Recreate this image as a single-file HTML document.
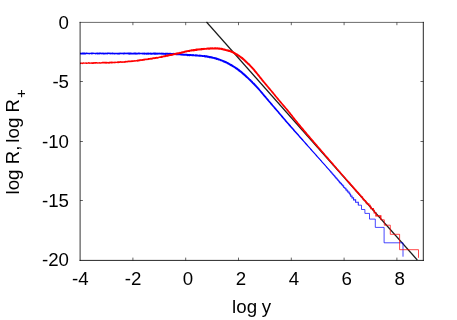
<!DOCTYPE html>
<html><head><meta charset="utf-8">
<style>
html,body{margin:0;padding:0;background:#fff;}
body{width:457px;height:320px;overflow:hidden;}
svg{display:block;will-change:transform;}
text{font-family:"Liberation Sans",sans-serif;font-size:18.7px;fill:#000;}
</style></head><body>
<svg width="457" height="320" viewBox="0 0 457 320">
<rect width="457" height="320" fill="#fff"/>
<g fill="none" stroke-linejoin="miter" stroke-linecap="butt">
<path stroke="#000" stroke-opacity="0.9" stroke-width="1.15" d="M206.5,22 L417.3,260"/>
<path d="M80.00,54.36 L80.70,54.47 L81.40,54.51 L82.10,54.41 L82.80,54.41 L83.50,54.39 L84.20,54.38 L84.90,54.42 L85.60,54.52 L86.30,54.22 L87.00,54.08 L87.70,54.16 L88.40,54.15 L89.10,54.22 L89.80,54.45 L90.50,54.08 L91.20,54.27 L91.90,54.45 L92.60,54.18 L93.30,54.09 L94.00,54.18 L94.70,54.10 L95.40,54.46 L96.10,54.15 L96.80,54.16 L97.50,54.47 L98.20,54.47 L98.90,54.36 L99.60,54.52 L100.30,54.11 L101.00,54.55 L101.70,54.36 L102.40,54.23 L103.10,54.49 L103.80,54.41 L104.50,54.57 L105.20,54.14 L105.90,54.38 L106.60,54.33 L107.30,54.41 L108.00,54.22 L108.70,54.12 L109.40,54.37 L110.10,54.28 L110.80,54.54 L111.50,54.33 L112.20,54.32 L112.90,54.42 L113.60,54.37 L114.30,54.58 L115.00,54.50 L115.70,54.37 L116.40,54.24 L117.10,54.43 L117.80,54.50 L118.50,54.51 L119.20,54.63 L119.90,54.27 L120.60,54.37 L121.30,54.37 L122.00,54.33 L122.70,54.36 L123.40,54.41 L124.10,54.45 L124.80,54.32 L125.50,54.27 L126.20,54.35 L126.90,54.28 L127.60,54.37 L128.30,54.55 L129.00,54.51 L129.70,54.71 L130.40,54.51 L131.10,54.50 L131.80,54.55 L132.50,54.59 L133.20,54.54 L133.90,54.53 L134.60,54.54 L135.30,54.43 L136.00,54.63 L136.70,54.55 L137.40,54.42 L138.10,54.39 L138.80,54.32 L139.50,54.45 L140.20,54.30 L140.90,54.37 L141.60,54.33 L142.30,54.43 L143.00,54.47 L143.70,54.58 L144.40,54.67 L145.10,54.61 L145.80,54.40 L146.50,54.74 L147.20,54.67 L147.90,54.56 L148.60,54.63 L149.30,54.58 L150.00,54.42 L150.70,54.64 L151.40,54.80 L152.10,54.71 L152.80,54.44 L153.50,54.42 L154.19,54.79 L154.89,54.79 L155.59,54.72 L156.29,54.73 L157.00,54.45 L157.69,54.76 L158.39,54.48 L159.09,54.47 L159.79,54.59 L160.49,54.42 L161.18,54.81 L161.89,54.51 L162.58,54.78 L163.28,54.73 L163.97,54.82 L164.67,54.77 L165.37,54.94 L166.07,54.71 L166.77,54.78 L167.47,54.73 L168.17,54.92 L168.87,54.76 L169.56,54.99 L170.27,54.71 L170.97,54.79 L171.67,54.90 L172.37,54.79 L173.07,54.85 L173.75,55.14 L174.46,54.97 L175.16,54.94 L175.84,55.22 L176.54,55.15 L177.23,55.21 L177.91,55.36 L178.60,55.34 L179.31,55.22 L180.02,55.18 L180.70,55.45 L181.40,55.57 L182.09,55.66 L182.81,55.47 L183.49,55.70 L184.18,55.87 L184.90,55.66 L185.60,55.73 L186.30,55.83 L187.00,55.93 L187.69,56.13 L188.40,56.02 L189.10,56.17 L189.80,56.13 L190.51,56.10 L191.21,56.07 L191.90,56.13 L192.59,56.33 L193.29,56.16 L193.99,56.19 L194.69,56.27 L195.37,56.48 L196.07,56.43 L196.77,56.43 L197.47,56.52 L198.17,56.50 L198.86,56.67 L199.54,56.86 L200.25,56.79 L200.94,56.85 L201.65,56.78 L202.33,56.93 L203.03,56.93 L203.71,57.00 L204.36,57.35 L205.05,57.39 L205.73,57.52 L206.44,57.41 L207.11,57.60 L207.77,57.89 L208.48,57.86 L209.13,58.14 L209.81,58.28 L210.55,58.13 L211.20,58.39 L211.86,58.58 L212.55,58.67 L213.22,58.84 L213.89,59.00 L214.57,59.14 L215.25,59.26 L215.85,59.65 L216.48,59.92 L217.21,59.86 L217.79,60.30 L218.47,60.45 L219.17,60.54 L219.82,60.80 L220.43,61.16 L221.12,61.30 L221.75,61.60 L222.40,61.84 L222.97,62.27 L223.67,62.41 L224.32,62.63 L224.88,63.06 L225.51,63.34 L226.15,63.57 L226.82,63.73 L227.33,64.21 L227.98,64.44 L228.54,64.86 L229.15,65.19 L229.77,65.52 L230.37,65.89 L230.97,66.25 L231.61,66.52 L232.21,66.88 L232.85,67.15 L233.41,67.57 L233.93,68.03 L234.58,68.27 L235.08,68.75 L235.63,69.15 L236.27,69.44 L236.75,69.94 L237.31,70.34 L237.82,70.81 L238.44,71.14 L238.94,71.63 L239.47,72.08 L240.07,72.44 L240.63,72.86 L241.15,73.32 L241.65,73.80 L242.22,74.19 L242.68,74.73 L243.27,75.11 L243.74,75.63 L244.31,76.03 L244.81,76.52 L245.28,77.03 L245.84,77.45 L246.34,77.93 L246.88,78.37 L247.37,78.86 L247.92,79.29 L248.38,79.83 L248.89,80.30 L249.41,80.77 L249.92,81.24 L250.40,81.75 L250.90,82.23 L251.39,82.73 L251.84,83.26 L252.33,83.76 L252.82,84.26 L253.36,84.71 L253.81,85.25 L254.32,85.72 L254.77,86.25 L255.33,86.68 L255.75,87.23 L256.24,87.73 L256.71,88.23 L257.16,88.76 L257.61,89.28 L258.07,89.80 L258.57,90.29 L259.02,90.82 L259.45,91.37 L259.95,91.86 L260.34,92.45 L260.81,92.97 L261.27,93.49 L261.71,94.04 L262.15,94.60 L262.61,95.12 L263.08,95.64 L263.57,96.14 L263.96,96.72 L264.46,97.22 L264.88,97.78 L265.36,98.29 L265.80,98.84 L266.24,99.38 L266.75,99.87 L267.19,100.41 L267.65,100.94 L268.11,101.47 L268.54,102.02 L268.96,102.58 L269.46,103.08 L269.92,103.60 L270.32,104.18 L270.81,104.69 L271.27,105.22 L271.71,105.77 L272.16,106.30 L272.66,106.80 L273.12,107.33 L273.56,107.87 L273.99,108.42 L274.45,108.96 L274.95,109.45 L275.38,110.00 L275.85,110.52 L276.28,111.07 L276.77,111.57 L277.23,112.10 L277.70,112.61 L278.10,113.19 L278.60,113.69 L279.04,114.22 L279.50,114.76 L279.91,115.32 L280.41,115.82 L280.85,116.36 L281.28,116.91 L281.76,117.42 L282.19,117.98 L282.66,118.50 L283.13,119.02 L283.56,119.58 L284.03,120.10 L284.49,120.62 L284.91,121.19 L285.38,121.71 L285.86,122.22 L286.33,122.75 L286.80,123.26 L287.23,123.82 L287.71,124.33 L288.17,124.86 L288.62,125.39 L289.08,125.92 L289.57,126.42 L290.04,126.94 L290.48,127.49 L290.98,127.99 L291.43,128.52 L291.91,129.03 L292.37,129.56 L292.84,130.08 L293.28,130.63 L293.75,131.14 L294.24,131.65 L294.69,132.18 L295.16,132.70 L295.65,133.20 L296.10,133.73 L296.55,134.27 L297.04,134.77 L297.51,135.29 L297.97,135.82 L298.45,136.33 L298.89,136.88 L299.37,137.39 L299.83,137.92 L300.30,138.43 L300.76,138.96 L301.23,139.48 L301.71,139.99 L302.18,140.50 L302.64,141.04 L303.13,141.54 L303.59,142.06 L304.03,142.61 L304.51,143.12 L304.96,143.65 L305.43,144.17 L305.91,144.69 L306.37,145.21 L306.83,145.74 L307.29,146.26 L307.80,146.76 L308.23,147.31 L308.72,147.81 L309.20,148.32 L309.66,148.85 L310.11,149.38 L310.56,149.91 L311.03,150.44 L311.51,150.95 L311.96,151.48 L312.44,151.99 L312.93,152.49 L313.38,153.03 L313.83,153.57 L314.29,154.10 L314.76,154.61 L315.27,155.10 L315.69,155.66 L316.14,156.20 L316.65,156.68 L317.09,157.23 L317.59,157.72 L318.02,158.28 L318.47,158.81 L318.98,159.29 L319.41,159.85 L319.91,160.34 L320.34,160.90 L320.86,161.37 L321.28,161.93 L321.78,162.42 L322.24,162.95 L322.72,163.46 L323.14,164.03 L323.65,164.51 L324.10,165.04 L324.56,165.57 L325.04,166.08 L325.50,166.61 L325.93,167.16 L326.41,167.67 L326.86,168.21 L327.37,168.69 L327.80,169.24 L328.30,169.74 L328.76,170.26 L329.20,170.81 L329.65,171.35 L330.10,171.88 L330.95,171.14 L330.48,170.62 L330.05,170.06 L329.59,169.53 L329.15,168.99 L328.69,168.46 L328.21,167.95 L327.77,167.40 L327.29,166.90 L326.82,166.37 L326.32,165.88 L325.87,165.35 L325.39,164.83 L324.95,164.29 L324.50,163.76 L324.00,163.26 L323.53,162.74 L323.10,162.18 L322.60,161.69 L322.19,161.13 L321.71,160.62 L321.21,160.12 L320.77,159.57 L320.30,159.06 L319.85,158.52 L319.39,157.99 L318.90,157.49 L318.47,156.93 L317.98,156.43 L317.51,155.92 L317.07,155.37 L316.59,154.86 L316.11,154.35 L315.64,153.83 L315.19,153.29 L314.73,152.76 L314.27,152.24 L313.80,151.73 L313.33,151.21 L312.88,150.66 L312.42,150.14 L311.96,149.62 L311.46,149.12 L311.00,148.59 L310.55,148.06 L310.07,147.55 L309.63,147.00 L309.15,146.49 L308.69,145.96 L308.23,145.43 L307.78,144.90 L307.34,144.35 L306.86,143.84 L306.41,143.31 L305.92,142.80 L305.50,142.25 L305.00,141.75 L304.54,141.22 L304.10,140.68 L303.66,140.13 L303.18,139.62 L302.73,139.09 L302.26,138.56 L301.81,138.03 L301.34,137.51 L300.88,136.99 L300.43,136.45 L299.97,135.92 L299.50,135.40 L299.05,134.87 L298.56,134.37 L298.12,133.82 L297.64,133.31 L297.20,132.76 L296.72,132.26 L296.29,131.70 L295.80,131.20 L295.37,130.65 L294.87,130.15 L294.42,129.61 L293.97,129.08 L293.53,128.53 L293.05,128.02 L292.60,127.49 L292.15,126.95 L291.65,126.46 L291.22,125.91 L290.78,125.36 L290.30,124.85 L289.82,124.34 L289.38,123.80 L288.93,123.26 L288.44,122.77 L287.99,122.23 L287.54,121.69 L287.07,121.17 L286.62,120.64 L286.18,120.10 L285.72,119.57 L285.27,119.03 L284.78,118.54 L284.36,117.98 L283.92,117.44 L283.46,116.91 L283.02,116.36 L282.54,115.85 L282.09,115.31 L281.63,114.79 L281.21,114.23 L280.75,113.70 L280.31,113.15 L279.83,112.64 L279.37,112.11 L278.93,111.56 L278.46,111.05 L278.03,110.49 L277.55,109.98 L277.11,109.43 L276.68,108.88 L276.21,108.36 L275.75,107.83 L275.26,107.33 L274.80,106.80 L274.37,106.25 L273.91,105.72 L273.45,105.19 L273.01,104.65 L272.58,104.10 L272.09,103.60 L271.64,103.06 L271.22,102.50 L270.76,101.98 L270.32,101.43 L269.82,100.94 L269.37,100.41 L268.97,99.83 L268.50,99.31 L268.05,98.77 L267.62,98.22 L267.15,97.70 L266.69,97.17 L266.27,96.61 L265.80,96.09 L265.32,95.58 L264.87,95.04 L264.45,94.48 L264.02,93.92 L263.53,93.42 L263.10,92.87 L262.62,92.36 L262.18,91.82 L261.74,91.27 L261.27,90.75 L260.86,90.18 L260.39,89.66 L259.93,89.13 L259.48,88.58 L259.03,88.04 L258.59,87.48 L258.07,87.00 L257.63,86.44 L257.18,85.90 L256.67,85.41 L256.21,84.87 L255.69,84.39 L255.22,83.87 L254.75,83.34 L254.26,82.84 L253.71,82.40 L253.21,81.91 L252.76,81.36 L252.28,80.84 L251.74,80.39 L251.27,79.87 L250.80,79.34 L250.23,78.92 L249.71,78.44 L249.27,77.89 L248.72,77.44 L248.25,76.91 L247.66,76.51 L247.18,75.99 L246.72,75.45 L246.12,75.07 L245.62,74.57 L245.14,74.05 L244.62,73.58 L244.05,73.15 L243.51,72.70 L243.06,72.14 L242.49,71.72 L241.97,71.23 L241.36,70.86 L240.83,70.39 L240.30,69.93 L239.70,69.55 L239.18,69.06 L238.57,68.69 L238.04,68.21 L237.51,67.72 L236.83,67.45 L236.25,67.03 L235.64,66.66 L235.07,66.23 L234.44,65.89 L233.87,65.46 L233.24,65.14 L232.65,64.74 L232.04,64.37 L231.45,64.00 L230.82,63.68 L230.17,63.42 L229.60,62.99 L228.98,62.64 L228.39,62.23 L227.70,61.98 L227.04,61.70 L226.46,61.24 L225.73,61.12 L225.07,60.86 L224.46,60.47 L223.79,60.22 L223.14,59.95 L222.46,59.74 L221.82,59.45 L221.15,59.24 L220.51,58.94 L219.86,58.65 L219.14,58.56 L218.52,58.18 L217.81,58.05 L217.16,57.73 L216.48,57.48 L215.80,57.28 L215.09,57.17 L214.43,56.88 L213.69,56.90 L213.03,56.63 L212.35,56.40 L211.63,56.35 L210.92,56.25 L210.26,55.99 L209.55,55.92 L208.85,55.83 L208.13,55.82 L207.45,55.62 L206.78,55.32 L206.05,55.36 L205.36,55.21 L204.66,55.02 L203.93,55.12 L203.22,55.13 L202.53,54.89 L201.82,54.93 L201.13,54.67 L200.42,54.77 L199.73,54.62 L199.01,54.77 L198.31,54.69 L197.62,54.62 L196.92,54.52 L196.24,54.22 L195.53,54.33 L194.81,54.45 L194.11,54.39 L193.43,54.03 L192.71,54.26 L192.02,54.11 L191.31,54.25 L190.61,54.07 L189.91,54.05 L189.22,53.88 L188.52,53.97 L187.83,53.89 L187.14,53.76 L186.45,53.68 L185.75,53.71 L185.04,53.73 L184.34,53.75 L183.65,53.67 L182.96,53.40 L182.26,53.46 L181.56,53.41 L180.86,53.39 L180.15,53.51 L179.47,53.25 L178.77,53.18 L178.07,53.10 L177.36,53.03 L176.64,53.28 L175.94,53.08 L175.23,53.12 L174.54,52.89 L173.84,52.80 L173.13,52.99 L172.42,53.04 L171.72,53.06 L171.02,53.03 L170.33,52.81 L169.63,52.71 L168.92,52.98 L168.23,52.67 L167.52,52.87 L166.83,52.78 L166.12,52.83 L165.43,52.65 L164.72,52.89 L164.02,52.67 L163.32,52.77 L162.62,52.68 L161.92,52.52 L161.21,52.75 L160.51,52.78 L159.81,52.64 L159.11,52.51 L158.41,52.65 L157.71,52.75 L157.01,52.46 L156.30,52.66 L155.61,52.49 L154.90,52.57 L154.20,52.53 L153.50,52.49 L152.80,52.75 L152.10,52.86 L151.40,52.69 L150.70,52.44 L150.00,52.83 L149.30,52.79 L148.60,52.40 L147.90,52.81 L147.20,52.58 L146.50,52.67 L145.80,52.65 L145.10,52.71 L144.40,52.60 L143.70,52.69 L143.00,52.52 L142.30,52.71 L141.60,52.77 L140.90,52.66 L140.20,52.80 L139.50,52.46 L138.80,52.38 L138.10,52.58 L137.40,52.82 L136.70,52.72 L136.00,52.53 L135.30,52.40 L134.60,52.50 L133.90,52.38 L133.20,52.74 L132.50,52.76 L131.80,52.74 L131.10,52.60 L130.40,52.60 L129.70,52.52 L129.00,52.45 L128.30,52.52 L127.60,52.49 L126.90,52.65 L126.20,52.50 L125.50,52.69 L124.80,52.37 L124.10,52.69 L123.40,52.57 L122.70,52.69 L122.00,52.41 L121.30,52.64 L120.60,52.50 L119.90,52.73 L119.20,52.54 L118.50,52.82 L117.80,52.76 L117.10,52.65 L116.40,52.68 L115.70,52.84 L115.00,52.65 L114.30,52.78 L113.60,52.83 L112.90,52.40 L112.20,52.50 L111.50,52.63 L110.80,52.52 L110.10,52.69 L109.40,52.55 L108.70,52.41 L108.00,52.48 L107.30,52.39 L106.60,52.77 L105.90,52.40 L105.20,52.81 L104.50,52.65 L103.80,52.49 L103.10,52.84 L102.40,52.52 L101.70,52.85 L101.00,52.48 L100.30,52.48 L99.60,52.40 L98.90,52.43 L98.20,52.63 L97.50,52.45 L96.80,52.62 L96.10,52.75 L95.40,52.79 L94.70,52.68 L94.00,52.70 L93.30,52.52 L92.60,52.62 L91.90,52.55 L91.20,52.59 L90.50,52.78 L89.80,52.76 L89.10,52.70 L88.40,52.82 L87.70,52.86 L87.00,52.49 L86.30,52.56 L85.60,52.74 L84.90,52.40 L84.20,52.62 L83.50,52.42 L82.80,52.40 L82.10,52.50 L81.40,52.68 L80.70,52.84 L80.00,52.59Z" fill="#0000ff" fill-opacity="1" stroke="none"/>
<path stroke="#0000ff" stroke-opacity="0.85" stroke-width="1.1" d="M330.40,171.33 L330.45,171.33 L330.45,171.52 L330.72,171.52 L330.72,171.73 L330.80,171.73 L330.80,171.93 L331.09,171.93 L331.09,172.14 L331.21,172.14 L331.21,172.35 L331.42,172.35 L331.42,172.57 L331.64,172.57 L331.64,172.79 L331.79,172.79 L331.79,173.01 L331.95,173.01 L331.95,173.24 L332.13,173.24 L332.13,173.48 L332.31,173.48 L332.31,173.71 L332.65,173.71 L332.65,173.96 L332.81,173.96 L332.81,174.20 L332.97,174.20 L332.97,174.46 L333.34,174.46 L333.34,174.72 L333.44,174.72 L333.44,174.98 L333.70,174.98 L333.70,175.25 L333.91,175.25 L333.91,175.53 L334.23,175.53 L334.23,175.81 L334.47,175.81 L334.47,176.10 L334.73,176.10 L334.73,176.40 L334.91,176.40 L334.91,176.70 L335.18,176.70 L335.18,177.02 L335.45,177.02 L335.45,177.34 L335.74,177.34 L335.74,177.67 L335.98,177.67 L335.98,178.01 L336.28,178.01 L336.28,178.36 L336.81,178.36 L336.81,178.72 L337.13,178.72 L337.13,179.09 L337.23,179.09 L337.23,179.48 L337.51,179.48 L337.51,179.87 L337.91,179.87 L337.91,180.28 L338.43,180.28 L338.43,180.71 L338.83,180.71 L338.83,181.15 L338.94,181.15 L338.94,181.61 L339.54,181.61 L339.54,182.08 L339.74,182.08 L339.74,182.58 L340.37,182.58 L340.37,183.10 L340.87,183.10 L340.87,183.64 L341.50,183.64 L341.50,184.20 L341.67,184.20 L341.67,184.80 L342.46,184.80 L342.46,185.42 L343.05,185.42 L343.05,186.09 L343.67,186.09 L343.67,186.79 L343.77,186.79 L343.77,187.53 L344.70,187.53 L344.70,188.32 L345.75,188.32 L345.75,189.17 L346.11,189.17 L346.11,190.09 L347.25,190.09 L347.25,191.08 L347.94,191.08 L347.94,192.16 L349.14,192.16 L349.14,193.35 L349.96,193.35 L349.96,194.67 L350.64,194.67 L350.64,196.16 L352.02,196.16 L352.02,197.86 L353.57,197.86 L353.57,199.84 L355.62,199.84 L355.62,202.22 L358.30,202.22 L358.30,205.20"/>
<path stroke="#0000ff" stroke-opacity="0.72" stroke-width="1" d="M358.30,205.20 L361.50,205.20 L361.50,209.50 L364.90,209.50 L364.90,213.40 L369.50,213.40 L369.50,219.10 L375.30,219.10 L375.30,227.40 L384.10,227.40 L384.10,242.80 L403.00,242.80 L403.00,256.70"/>
<path d="M80.02,64.13 L80.72,64.00 L81.41,63.86 L82.12,64.18 L82.82,63.95 L83.51,63.79 L84.21,63.79 L84.91,63.75 L85.61,63.82 L86.32,63.97 L87.02,63.93 L87.71,63.77 L88.41,63.72 L89.12,63.87 L89.82,63.93 L90.52,63.85 L91.22,63.84 L91.92,64.03 L92.62,63.97 L93.32,63.92 L94.01,63.73 L94.72,63.80 L95.42,63.86 L96.11,63.71 L96.81,63.50 L97.52,63.79 L98.22,63.87 L98.91,63.59 L99.62,63.80 L100.32,63.75 L101.01,63.70 L101.71,63.40 L102.41,63.38 L103.11,63.60 L103.81,63.60 L104.51,63.38 L105.22,63.77 L105.91,63.42 L106.61,63.65 L107.31,63.47 L108.01,63.47 L108.72,63.63 L109.42,63.68 L110.11,63.23 L110.82,63.53 L111.52,63.47 L112.22,63.39 L112.92,63.30 L113.62,63.32 L114.32,63.19 L115.04,63.46 L115.72,63.06 L116.42,63.04 L117.14,63.26 L117.83,63.11 L118.54,63.15 L119.24,63.10 L119.94,63.11 L120.62,62.81 L121.34,63.02 L122.03,62.81 L122.74,62.93 L123.43,62.73 L124.15,62.89 L124.85,62.85 L125.54,62.70 L126.23,62.48 L126.94,62.49 L127.63,62.41 L128.33,62.27 L129.02,62.16 L129.74,62.33 L130.43,62.19 L131.11,61.96 L131.84,62.14 L132.53,62.05 L133.23,61.95 L133.91,61.70 L134.63,61.77 L135.33,61.71 L136.00,61.46 L136.71,61.44 L137.45,61.67 L138.14,61.57 L138.83,61.44 L139.51,61.18 L140.22,61.19 L140.87,60.84 L141.59,60.88 L142.30,60.90 L142.97,60.65 L143.69,60.78 L144.38,60.67 L145.05,60.36 L145.73,60.17 L146.46,60.32 L147.13,60.06 L147.86,60.17 L148.54,60.00 L149.25,60.03 L149.90,59.60 L150.62,59.65 L151.33,59.72 L152.03,59.60 L152.72,59.50 L153.37,59.09 L154.09,59.15 L154.79,59.09 L155.48,58.96 L156.14,58.64 L156.88,58.83 L157.58,58.70 L158.25,58.48 L158.92,58.22 L159.62,58.10 L160.30,57.91 L161.03,57.98 L161.73,57.90 L162.42,57.75 L163.09,57.55 L163.77,57.37 L164.48,57.34 L165.15,57.14 L165.84,57.02 L166.49,56.69 L167.25,56.88 L167.86,56.38 L168.59,56.47 L169.28,56.35 L169.94,56.09 L170.65,56.06 L171.36,56.00 L172.03,55.77 L172.72,55.64 L173.36,55.29 L174.07,55.28 L174.72,54.99 L175.44,54.99 L176.14,54.92 L176.79,54.61 L177.46,54.40 L178.19,54.49 L178.83,54.13 L179.52,53.99 L180.26,54.08 L180.94,53.91 L181.62,53.73 L182.25,53.34 L182.99,53.39 L183.65,53.10 L184.34,52.94 L185.00,52.73 L185.68,52.57 L186.34,52.38 L187.02,52.27 L187.68,52.05 L188.38,52.02 L189.07,51.93 L189.78,51.95 L190.42,51.58 L191.13,51.62 L191.79,51.38 L192.48,51.29 L193.19,51.38 L193.86,51.17 L194.56,51.16 L195.25,51.10 L195.93,50.90 L196.63,50.90 L197.32,50.84 L198.00,50.61 L198.68,50.45 L199.38,50.48 L200.07,50.35 L200.78,50.44 L201.48,50.40 L202.15,50.08 L202.85,50.13 L203.54,50.00 L204.24,50.01 L204.93,49.84 L205.63,49.84 L206.33,49.72 L207.03,49.74 L207.71,49.59 L208.41,49.70 L209.10,49.72 L209.79,49.68 L210.47,49.55 L211.16,49.43 L211.86,49.59 L212.56,49.50 L213.25,49.40 L213.95,49.50 L214.65,49.53 L215.34,49.41 L216.02,49.50 L216.69,49.43 L217.36,49.56 L218.04,49.57 L218.71,49.70 L219.41,49.64 L220.08,49.84 L220.78,49.83 L221.43,49.96 L222.04,50.17 L222.69,50.29 L223.34,50.50 L224.03,50.65 L224.72,50.84 L225.40,51.08 L226.12,51.10 L226.77,51.39 L227.46,51.52 L228.11,51.74 L228.76,51.95 L229.44,52.01 L230.03,52.33 L230.69,52.43 L231.28,52.72 L231.84,53.10 L232.51,53.26 L233.11,53.60 L233.66,54.03 L234.32,54.28 L234.91,54.65 L235.54,54.95 L236.11,55.33 L236.70,55.69 L237.24,56.12 L237.87,56.41 L238.40,56.86 L239.02,57.17 L239.61,57.51 L240.12,57.98 L240.67,58.38 L241.18,58.82 L241.73,59.21 L242.22,59.68 L242.77,60.10 L243.25,60.59 L243.79,61.02 L244.30,61.49 L244.81,61.97 L245.30,62.48 L245.84,62.92 L246.38,63.37 L246.84,63.90 L247.33,64.40 L247.90,64.80 L248.39,65.30 L248.88,65.79 L249.40,66.26 L249.83,66.81 L250.31,67.30 L250.82,67.77 L251.25,68.31 L251.72,68.81 L252.19,69.31 L252.66,69.81 L253.08,70.35 L253.55,70.87 L253.98,71.41 L254.46,71.91 L254.86,72.49 L255.32,73.02 L255.78,73.54 L256.20,74.11 L256.70,74.61 L257.12,75.17 L257.55,75.72 L257.97,76.27 L258.41,76.82 L258.88,77.33 L259.30,77.89 L259.75,78.43 L260.20,78.97 L260.65,79.51 L261.07,80.08 L261.50,80.63 L261.95,81.18 L262.39,81.72 L262.84,82.26 L263.31,82.78 L263.79,83.30 L264.21,83.86 L264.67,84.39 L265.15,84.90 L265.54,85.49 L266.01,86.00 L266.44,86.55 L266.92,87.07 L267.39,87.58 L267.83,88.13 L268.26,88.68 L268.69,89.23 L269.17,89.75 L269.60,90.30 L270.05,90.84 L270.54,91.34 L271.00,91.87 L271.41,92.43 L271.85,92.97 L272.32,93.50 L272.75,94.05 L273.18,94.59 L273.68,95.09 L274.10,95.65 L274.57,96.17 L275.00,96.72 L275.46,97.25 L275.86,97.83 L276.32,98.36 L276.75,98.91 L277.21,99.44 L277.69,99.96 L278.12,100.51 L278.56,101.06 L279.02,101.58 L279.44,102.15 L279.94,102.65 L280.37,103.20 L280.82,103.74 L281.27,104.27 L281.74,104.80 L282.16,105.36 L282.63,105.88 L283.11,106.39 L283.52,106.96 L284.02,107.45 L284.44,108.01 L284.88,108.56 L285.34,109.08 L285.80,109.61 L286.27,110.13 L286.69,110.68 L287.13,111.22 L287.60,111.74 L288.01,112.30 L288.45,112.84 L288.92,113.36 L289.31,113.93 L289.75,114.47 L290.17,115.03 L290.63,115.56 L291.05,116.11 L291.45,116.69 L291.88,117.25 L292.31,117.80 L292.78,118.32 L293.19,118.89 L293.60,119.46 L294.05,120.00 L294.50,120.55 L294.96,121.08 L295.38,121.64 L295.81,122.20 L296.26,122.73 L296.71,123.27 L297.13,123.83 L297.61,124.35 L298.03,124.91 L298.50,125.43 L298.94,125.98 L299.36,126.54 L299.84,127.05 L300.29,127.59 L300.74,128.13 L301.16,128.69 L301.62,129.22 L302.08,129.75 L302.54,130.28 L302.97,130.83 L303.44,131.35 L303.90,131.88 L304.34,132.43 L304.80,132.95 L305.26,133.48 L305.71,134.02 L306.19,134.53 L306.65,135.06 L307.08,135.61 L307.55,136.13 L308.01,136.66 L308.45,137.21 L308.91,137.73 L309.40,138.24 L309.85,138.78 L310.30,139.31 L310.76,139.84 L311.21,140.37 L311.71,140.87 L312.13,141.43 L312.62,141.94 L313.08,142.46 L313.53,143.00 L313.98,143.54 L314.44,144.06 L314.93,144.56 L315.37,145.11 L315.84,145.63 L316.27,146.18 L316.75,146.69 L317.21,147.22 L317.65,147.76 L318.12,148.28 L318.56,148.82 L319.04,149.34 L319.50,149.87 L319.96,150.39 L320.41,150.93 L320.84,151.48 L321.34,151.98 L321.81,152.49 L322.27,153.03 L322.71,153.57 L323.14,154.12 L323.63,154.62 L324.06,155.17 L324.56,155.67 L324.99,156.23 L325.48,156.72 L325.90,157.29 L326.37,157.81 L326.84,158.33 L327.27,158.88 L327.75,159.39 L328.19,159.94 L328.67,160.45 L329.11,160.99 L329.58,161.51 L330.05,162.03 L330.53,162.54 L330.98,163.07 L331.44,163.60 L331.92,164.11 L332.35,164.66 L332.78,165.22 L333.26,165.73 L333.77,166.22 L334.21,166.76 L334.63,167.32 L335.11,167.83 L335.60,168.33 L336.04,168.88 L336.52,169.39 L336.93,169.97 L337.40,170.48 L337.88,170.99 L338.32,171.54 L338.80,172.05 L339.27,172.57 L339.71,173.11 L340.20,173.62 L340.63,174.17 L341.08,174.70 L341.54,175.23 L342.04,175.72 L342.49,176.26 L342.91,176.82 L343.43,177.29 L343.89,177.82 L344.36,178.35 L344.83,178.86 L345.27,179.41 L345.72,179.95 L346.14,180.51 L346.66,180.98 L347.07,181.55 L347.57,182.05 L348.05,182.56 L349.10,181.64 L348.64,181.12 L348.20,180.56 L347.76,180.02 L347.27,179.52 L346.86,178.95 L346.35,178.47 L345.90,177.93 L345.50,177.35 L344.99,176.86 L344.53,176.34 L344.04,175.83 L343.59,175.30 L343.19,174.72 L342.67,174.24 L342.24,173.69 L341.78,173.16 L341.33,172.63 L340.90,172.07 L340.41,171.57 L339.96,171.04 L339.48,170.52 L339.03,169.99 L338.58,169.45 L338.09,168.95 L337.68,168.38 L337.18,167.89 L336.76,167.33 L336.24,166.85 L335.82,166.29 L335.34,165.78 L334.88,165.25 L334.43,164.71 L333.96,164.20 L333.55,163.62 L333.10,163.09 L332.59,162.61 L332.12,162.09 L331.67,161.55 L331.22,161.02 L330.80,160.45 L330.34,159.92 L329.83,159.44 L329.40,158.89 L328.93,158.36 L328.51,157.81 L328.05,157.28 L327.59,156.75 L327.11,156.24 L326.64,155.72 L326.17,155.20 L325.72,154.67 L325.25,154.15 L324.80,153.61 L324.34,153.08 L323.88,152.55 L323.44,152.01 L322.97,151.49 L322.55,150.93 L322.07,150.42 L321.62,149.88 L321.14,149.37 L320.73,148.80 L320.23,148.31 L319.78,147.78 L319.35,147.22 L318.89,146.69 L318.44,146.15 L317.95,145.65 L317.52,145.10 L317.08,144.56 L316.59,144.05 L316.13,143.53 L315.72,142.96 L315.25,142.44 L314.80,141.90 L314.30,141.40 L313.88,140.85 L313.42,140.32 L312.96,139.78 L312.48,139.28 L312.04,138.74 L311.57,138.21 L311.12,137.68 L310.69,137.13 L310.22,136.61 L309.78,136.06 L309.30,135.55 L308.85,135.01 L308.42,134.47 L307.94,133.95 L307.48,133.43 L307.05,132.87 L306.60,132.34 L306.14,131.81 L305.70,131.27 L305.24,130.74 L304.80,130.20 L304.34,129.68 L303.91,129.12 L303.46,128.59 L303.00,128.06 L302.57,127.51 L302.10,126.99 L301.64,126.47 L301.21,125.91 L300.77,125.37 L300.30,124.85 L299.85,124.31 L299.43,123.75 L298.97,123.23 L298.53,122.69 L298.10,122.14 L297.67,121.58 L297.20,121.07 L296.76,120.52 L296.34,119.96 L295.90,119.42 L295.43,118.91 L295.04,118.33 L294.60,117.79 L294.15,117.25 L293.75,116.68 L293.31,116.14 L292.89,115.58 L292.45,115.03 L292.03,114.47 L291.58,113.93 L291.14,113.39 L290.70,112.83 L290.28,112.27 L289.81,111.74 L289.39,111.18 L288.92,110.66 L288.48,110.10 L288.04,109.56 L287.61,109.00 L287.15,108.47 L286.67,107.96 L286.22,107.42 L285.77,106.88 L285.32,106.35 L284.86,105.81 L284.43,105.26 L283.97,104.73 L283.50,104.21 L283.06,103.67 L282.59,103.15 L282.12,102.63 L281.68,102.09 L281.20,101.58 L280.79,101.01 L280.33,100.48 L279.89,99.94 L279.41,99.43 L279.00,98.86 L278.52,98.36 L278.07,97.83 L277.67,97.25 L277.18,96.75 L276.77,96.18 L276.28,95.68 L275.86,95.11 L275.43,94.56 L274.96,94.04 L274.57,93.46 L274.11,92.92 L273.68,92.37 L273.22,91.84 L272.73,91.33 L272.31,90.78 L271.86,90.23 L271.44,89.67 L270.96,89.16 L270.52,88.62 L270.04,88.10 L269.66,87.51 L269.18,87.00 L268.75,86.45 L268.32,85.90 L267.83,85.39 L267.37,84.86 L266.93,84.32 L266.47,83.80 L266.07,83.21 L265.63,82.67 L265.19,82.13 L264.69,81.64 L264.27,81.07 L263.80,80.56 L263.38,80.00 L262.94,79.46 L262.53,78.89 L262.11,78.34 L261.64,77.82 L261.20,77.28 L260.78,76.72 L260.33,76.18 L259.93,75.60 L259.44,75.10 L259.06,74.50 L258.63,73.94 L258.12,73.46 L257.70,72.90 L257.26,72.35 L256.83,71.80 L256.45,71.20 L255.98,70.68 L255.52,70.14 L255.06,69.61 L254.62,69.05 L254.16,68.51 L253.69,67.98 L253.23,67.44 L252.77,66.90 L252.25,66.42 L251.77,65.89 L251.28,65.38 L250.78,64.88 L250.29,64.37 L249.80,63.85 L249.31,63.35 L248.78,62.88 L248.26,62.40 L247.78,61.89 L247.24,61.44 L246.79,60.90 L246.26,60.44 L245.73,59.97 L245.27,59.42 L244.68,59.01 L244.17,58.50 L243.60,58.07 L243.08,57.57 L242.54,57.09 L241.90,56.75 L241.32,56.33 L240.75,55.91 L240.23,55.40 L239.64,55.00 L239.01,54.64 L238.37,54.31 L237.81,53.85 L237.16,53.54 L236.58,53.14 L235.93,52.85 L235.33,52.49 L234.74,52.06 L234.07,51.80 L233.42,51.47 L232.79,51.10 L232.15,50.74 L231.43,50.55 L230.73,50.33 L230.05,50.11 L229.36,49.87 L228.69,49.60 L227.98,49.50 L227.29,49.31 L226.60,49.16 L225.93,48.96 L225.28,48.74 L224.63,48.51 L223.90,48.51 L223.21,48.29 L222.52,48.00 L221.79,47.80 L221.07,47.73 L220.36,47.72 L219.65,47.61 L218.95,47.43 L218.21,47.55 L217.50,47.36 L216.77,47.43 L216.04,47.24 L215.33,47.27 L214.62,47.25 L213.92,47.44 L213.21,47.44 L212.51,47.32 L211.80,47.29 L211.10,47.38 L210.39,47.37 L209.68,47.45 L208.97,47.53 L208.26,47.47 L207.55,47.58 L206.85,47.63 L206.14,47.67 L205.46,47.92 L204.76,47.96 L204.05,47.82 L203.37,48.04 L202.66,48.04 L201.95,48.02 L201.25,48.09 L200.56,48.29 L199.87,48.43 L199.15,48.33 L198.45,48.40 L197.76,48.52 L197.05,48.54 L196.35,48.62 L195.65,48.69 L194.98,48.98 L194.26,48.90 L193.55,48.99 L192.87,49.21 L192.17,49.26 L191.46,49.32 L190.76,49.44 L190.08,49.68 L189.37,49.73 L188.69,49.92 L187.97,49.91 L187.31,50.22 L186.60,50.31 L185.89,50.40 L185.19,50.53 L184.54,50.84 L183.84,50.93 L183.19,51.23 L182.51,51.37 L181.80,51.38 L181.13,51.54 L180.50,51.94 L179.76,51.81 L179.13,52.22 L178.43,52.26 L177.72,52.31 L177.06,52.56 L176.33,52.50 L175.68,52.80 L174.98,52.90 L174.33,53.17 L173.61,53.19 L172.97,53.50 L172.30,53.72 L171.59,53.75 L170.88,53.80 L170.24,54.11 L169.51,54.07 L168.85,54.30 L168.15,54.40 L167.45,54.46 L166.76,54.59 L166.11,54.90 L165.43,55.05 L164.74,55.18 L164.03,55.17 L163.40,55.60 L162.73,55.82 L161.99,55.68 L161.29,55.76 L160.66,56.16 L159.97,56.27 L159.29,56.42 L158.63,56.63 L157.94,56.72 L157.27,56.91 L156.55,56.83 L155.85,56.91 L155.17,57.05 L154.49,57.21 L153.78,57.22 L153.08,57.25 L152.40,57.45 L151.75,57.78 L151.04,57.77 L150.33,57.74 L149.65,57.88 L148.96,58.02 L148.26,58.05 L147.61,58.44 L146.86,58.18 L146.22,58.64 L145.50,58.47 L144.79,58.49 L144.12,58.70 L143.40,58.64 L142.75,59.04 L142.03,58.95 L141.36,59.19 L140.66,59.28 L139.93,59.12 L139.27,59.44 L138.59,59.60 L137.87,59.53 L137.21,59.84 L136.52,59.97 L135.82,59.99 L135.14,60.14 L134.41,59.93 L133.74,60.13 L133.04,60.18 L132.36,60.37 L131.65,60.30 L130.96,60.43 L130.27,60.58 L129.56,60.44 L128.86,60.47 L128.17,60.62 L127.48,60.71 L126.78,60.73 L126.11,61.03 L125.38,60.72 L124.70,60.94 L124.02,61.21 L123.32,61.13 L122.62,61.24 L121.92,61.16 L121.23,61.23 L120.52,61.11 L119.82,61.16 L119.13,61.27 L118.43,61.25 L117.74,61.37 L117.05,61.61 L116.35,61.66 L115.64,61.44 L114.96,61.78 L114.25,61.49 L113.56,61.76 L112.86,61.81 L112.16,61.61 L111.46,61.56 L110.77,61.86 L110.06,61.58 L109.37,61.69 L108.67,61.91 L107.97,61.73 L107.28,62.12 L106.58,61.86 L105.88,61.83 L105.18,61.86 L104.48,61.82 L103.77,61.79 L103.07,61.76 L102.38,61.87 L101.68,61.97 L100.98,62.15 L100.28,62.21 L99.58,62.04 L98.88,62.25 L98.18,62.24 L97.48,62.24 L96.77,62.00 L96.08,62.09 L95.37,61.94 L94.68,62.06 L93.98,62.14 L93.27,62.04 L92.58,62.36 L91.88,62.21 L91.18,62.22 L90.48,62.48 L89.78,62.17 L89.08,62.16 L88.38,62.10 L87.69,62.57 L86.98,62.54 L86.28,62.19 L85.58,62.36 L84.89,62.65 L84.18,62.23 L83.48,62.37 L82.78,62.50 L82.08,62.51 L81.38,62.56 L80.68,62.40 L79.98,62.59Z" fill="#ff0000" fill-opacity="1" stroke="none"/>
<path stroke="#ff0000" stroke-opacity="0.97" stroke-width="1.25" d="M348.46,181.96 L348.57,181.96 L348.57,182.16 L348.77,182.16 L348.77,182.36 L348.91,182.36 L348.91,182.56 L349.10,182.56 L349.10,182.77 L349.32,182.77 L349.32,182.99 L349.53,182.99 L349.53,183.20 L349.72,183.20 L349.72,183.42 L349.90,183.42 L349.90,183.65 L349.97,183.65 L349.97,183.88 L350.22,183.88 L350.22,184.11 L350.36,184.11 L350.36,184.35 L350.67,184.35 L350.67,184.59 L350.93,184.59 L350.93,184.84 L351.00,184.84 L351.00,185.09 L351.25,185.09 L351.25,185.35 L351.52,185.35 L351.52,185.61 L351.73,185.61 L351.73,185.89 L352.08,185.89 L352.08,186.16 L352.23,186.16 L352.23,186.45 L352.55,186.45 L352.55,186.74 L352.77,186.74 L352.77,187.03 L353.06,187.03 L353.06,187.34 L353.42,187.34 L353.42,187.65 L353.70,187.65 L353.70,187.97 L353.77,187.97 L353.77,188.30 L354.26,188.30 L354.26,188.64 L354.43,188.64 L354.43,188.99 L354.67,188.99 L354.67,189.35 L355.07,189.35 L355.07,189.73 L355.44,189.73 L355.44,190.11 L355.92,190.11 L355.92,190.51 L356.09,190.51 L356.09,190.92 L356.34,190.92 L356.34,191.34 L357.01,191.34 L357.01,191.78 L357.14,191.78 L357.14,192.24 L357.68,192.24 L357.68,192.72 L358.25,192.72 L358.25,193.21 L358.56,193.21 L358.56,193.73 L359.00,193.73 L359.00,194.27 L359.64,194.27 L359.64,194.84 L359.80,194.84 L359.80,195.43 L360.59,195.43 L360.59,196.06 L361.08,196.06 L361.08,196.72 L361.99,196.72 L361.99,197.42 L362.53,197.42 L362.53,198.16 L362.75,198.16 L362.75,198.96 L363.55,198.96 L363.55,199.81 L364.49,199.81 L364.49,200.72 L365.52,200.72 L365.52,201.71 L366.14,201.71 L366.14,202.80 L367.15,202.80 L367.15,203.99 L368.82,203.99 L368.82,205.31 L370.14,205.31 L370.14,206.80 L370.89,206.80 L370.89,208.50 L373.25,208.50 L373.25,210.48 L374.23,210.48 L374.23,212.86 L375.93,212.86 L375.93,215.83 L380.80,215.83 L380.80,219.80"/>
<path stroke="#ff0000" stroke-opacity="0.72" stroke-width="1" d="M380.80,219.80 L384.30,219.80 L384.30,225.20 L390.30,225.20 L390.30,234.30 L399.60,234.30 L399.60,249.70 L418.50,249.70 L418.50,257.80"/>
</g>
<g stroke="#000" stroke-width="1" fill="none" stroke-linecap="square">
<path d="M80.1,22.4 H423.3" stroke-opacity="0.58"/>
<path d="M80.1,22.4 V260.4" stroke-opacity="0.8"/>
<path d="M423.3,22.4 V260.4" stroke-opacity="0.86"/>
<path d="M80.1,260.4 H423.3" stroke-opacity="0.86"/>
</g>
<path d="M132.9,260.40 v-2.8 M132.9,22.40 v2.8 M185.7,260.40 v-2.8 M185.7,22.40 v2.8 M238.5,260.40 v-2.8 M238.5,22.40 v2.8 M291.3,260.40 v-2.8 M291.3,22.40 v2.8 M344.1,260.40 v-2.8 M344.1,22.40 v2.8 M396.9,260.40 v-2.8 M396.9,22.40 v2.8 M80.10,81.5 h2.8 M423.30,81.5 h-2.8 M80.10,141.5 h2.8 M423.30,141.5 h-2.8 M80.10,200.5 h2.8 M423.30,200.5 h-2.8 " stroke="#000" stroke-opacity="0.6" stroke-width="1" fill="none"/>
<g text-anchor="end">
<text x="69" y="28.6">0</text>
<text x="69" y="87.7">-5</text>
<text x="69" y="147.6">-10</text>
<text x="69" y="206.9">-15</text>
<text x="69" y="266.0">-20</text>
</g>
<g text-anchor="middle">
<text x="80.3" y="285.2">-4</text>
<text x="133" y="285.2">-2</text>
<text x="188" y="285.2">0</text>
<text x="241" y="285.2">2</text>
<text x="294" y="285.2">4</text>
<text x="346.6" y="285.2">6</text>
<text x="399.6" y="285.2">8</text>
</g>
<text x="232.1" y="312.6" font-size="19.2px" dx="0 0 0 -0.3 -0.3">log y</text>
<text transform="translate(18.6,194.5) rotate(-90)" dx="0 0 0 0 0 0 0 -2.2">log R, log R<tspan font-size="15px" dy="7.8" dx="1.0">+</tspan></text>
</svg>
</body></html>
